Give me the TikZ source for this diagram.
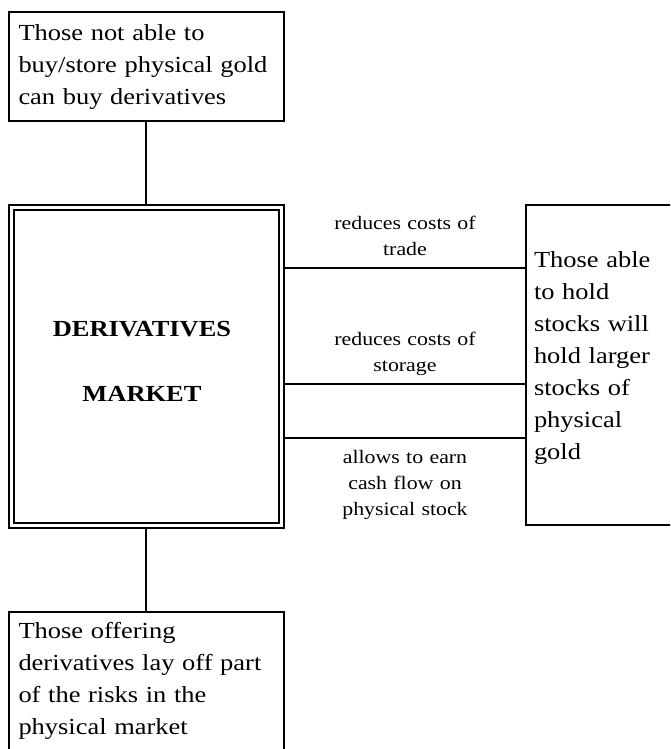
\documentclass[tikz,border=0pt]{standalone}
\usepackage{fontspec}
\setmainfont{Liberation Serif}
\newfontfamily\bodyf{Liberation Serif}[FakeStretch=1.15,WordSpace=1.4]
\newfontfamily\smallf{Liberation Serif}[FakeStretch=1.15,WordSpace=1.0]
\newfontfamily\boldf{Liberation Serif}[FakeStretch=1.15]
\begin{document}
\begin{tikzpicture}[x=1pt,y=-1pt,line width=2pt,
  box/.style={draw, rectangle, inner sep=0pt, outer sep=0pt},
  btext/.style={anchor=base west, inner sep=0pt, text width=300pt, align=left,
    font=\bodyf\fontsize{23}{32}\selectfont},
  ltext/.style={anchor=base, inner sep=0pt, text width=230pt, align=center,
    font=\smallf\fontsize{19}{26}\selectfont},
  mtext/.style={anchor=base, inner sep=0pt, text width=260pt, align=center,
    font=\boldf\bfseries\fontsize{23}{65}\selectfont}]
\useasboundingbox (0,0) rectangle (670,749);
\clip (0,0) rectangle (670,749);
% boxes
\node[box, minimum width=275.5pt, minimum height=108.5pt] (top) at (146.25,66.5) {};
\node[draw, double, double distance=3pt, inner sep=0pt, outer sep=2.5pt,
  minimum width=270.5pt, minimum height=317.5pt] (mkt) at (146.25,366.25) {};
\node[box, minimum width=174.5pt, minimum height=320pt] (rt) at (612.75,365) {};
\node[box, minimum width=275.5pt, minimum height=190pt] (bot) at (146.25,706.5) {};
% connectors
\draw (top.south) -- (mkt.north);
\draw (mkt.south) -- (bot.north);
\coordinate (r1) at (400,268.3);
\coordinate (r2) at (400,384);
\coordinate (r3) at (400,438);
\draw (mkt.east |- r1) -- (rt.west |- r1);
\draw (mkt.east |- r2) -- (rt.west |- r2);
\draw (mkt.east |- r3) -- (rt.west |- r3);
% texts
\node[btext] (ttop) at (17.5,40.7) {Those not able to\\buy/store physical gold\\can buy derivatives};
\node[btext] (tbot) at (17.5,638.3) {Those offering\\derivatives lay off part\\of the risks in the\\physical market};
\node[btext] (trt) at (533,267.5) {Those able\\to hold\\stocks will\\hold larger\\stocks of\\physical\\gold};
\node[ltext] (l1) at (405,229) {reduces costs of\\trade};
\node[ltext] (l2) at (405,345) {reduces costs of\\storage};
\node[ltext] (l3) at (405,463) {allows to earn\\cash flow on\\physical stock};
\node[mtext] (mt) at (142,336.7) {DERIVATIVES\\MARKET};
\end{tikzpicture}
\end{document}
